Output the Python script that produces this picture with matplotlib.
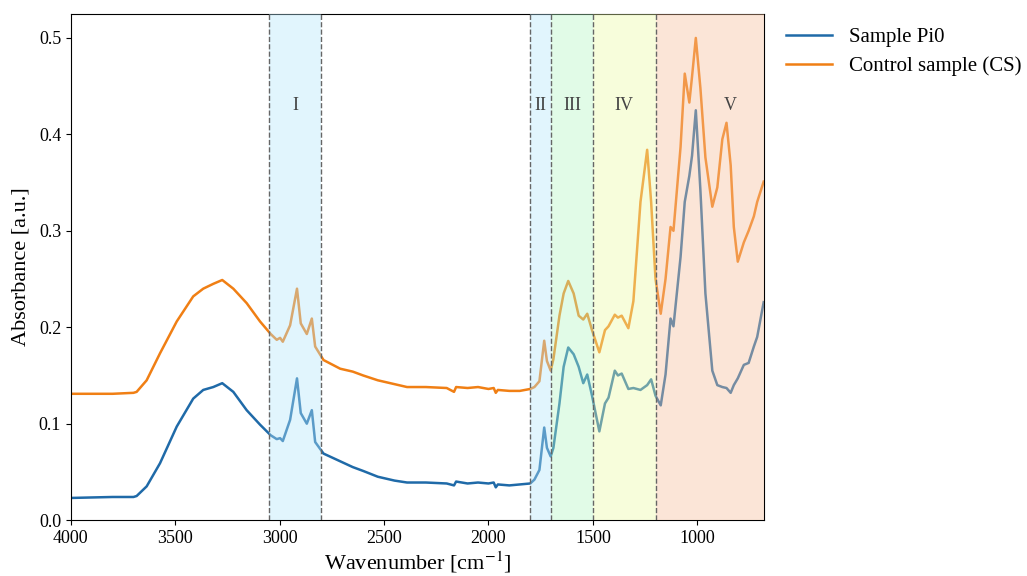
import matplotlib
matplotlib.use("Agg")
import matplotlib.pyplot as plt

plt.rcParams['font.family'] = ['Liberation Serif', 'DejaVu Serif']
plt.rcParams['mathtext.fontset'] = 'stix'

# wavenumber grid [cm^-1]
wavenumber = [4000, 3800, 3700, 3685, 3637, 3573, 3493, 3414, 3366, 3318, 3275, 3222,
              3158, 3094, 3043, 3014, 2998, 2985, 2950, 2917, 2899, 2870, 2846, 2830,
              2790, 2710, 2650, 2600, 2530, 2450, 2390, 2300, 2200, 2165, 2155, 2100,
              2050, 2000, 1975, 1965, 1955, 1900, 1850, 1800, 1780, 1756, 1733, 1720,
              1702, 1689, 1660, 1640, 1618, 1592, 1568, 1546, 1527, 1504, 1469, 1442,
              1425, 1395, 1380, 1362, 1330, 1306, 1272, 1240, 1221, 1200, 1175, 1152,
              1128, 1114, 1080, 1060, 1038, 1025, 1007, 985, 961, 928, 904, 880,
              860, 840, 825, 806, 777, 754, 729, 713, 682]

sample_pi0 = [0.023, 0.024, 0.024, 0.025, 0.035, 0.059, 0.097, 0.126, 0.135, 0.138, 0.142, 0.133,
              0.114, 0.099, 0.088, 0.084, 0.085, 0.082, 0.104, 0.147, 0.111, 0.100, 0.114, 0.081,
              0.069, 0.061, 0.055, 0.051, 0.045, 0.041, 0.039, 0.039, 0.038, 0.036, 0.040, 0.038,
              0.039, 0.038, 0.039, 0.034, 0.037, 0.036, 0.037, 0.038, 0.042, 0.052, 0.096, 0.075,
              0.066, 0.075, 0.121, 0.159, 0.179, 0.172, 0.159, 0.142, 0.151, 0.129, 0.092, 0.121,
              0.127, 0.155, 0.150, 0.152, 0.136, 0.137, 0.135, 0.140, 0.146, 0.129, 0.119, 0.151,
              0.209, 0.201, 0.273, 0.330, 0.357, 0.378, 0.425, 0.342, 0.235, 0.155, 0.140, 0.138,
              0.137, 0.132, 0.140, 0.147, 0.161, 0.163, 0.180, 0.190, 0.226]

control_cs = [0.131, 0.131, 0.132, 0.133, 0.145, 0.173, 0.206, 0.232, 0.240, 0.245, 0.249, 0.240,
              0.225, 0.206, 0.193, 0.187, 0.189, 0.185, 0.202, 0.240, 0.204, 0.193, 0.209, 0.180,
              0.166, 0.157, 0.154, 0.150, 0.145, 0.141, 0.138, 0.138, 0.137, 0.133, 0.138, 0.137,
              0.138, 0.136, 0.137, 0.132, 0.135, 0.134, 0.134, 0.136, 0.138, 0.144, 0.186, 0.165,
              0.155, 0.167, 0.212, 0.235, 0.248, 0.235, 0.212, 0.208, 0.214, 0.197, 0.174, 0.197,
              0.201, 0.213, 0.210, 0.212, 0.199, 0.227, 0.330, 0.384, 0.330, 0.250, 0.214, 0.250,
              0.304, 0.300, 0.387, 0.463, 0.433, 0.460, 0.500, 0.448, 0.376, 0.325, 0.345, 0.395,
              0.412, 0.368, 0.304, 0.268, 0.288, 0.300, 0.315, 0.330, 0.351]

# spectral regions
region_labels = ['I', 'II', 'III', 'IV', 'V']
region_start = [3050, 1800, 1700, 1500, 1200]
region_end = [2800, 1700, 1500, 1200, 680]
region_label_x = [2925, 1750, 1600, 1350, 840]
region_colors = ['#b4e6fa', '#b4e6fa', '#b4f7c5', '#ebfaa7', '#f7c09b']
boundaries = [3050, 2800, 1800, 1700, 1500, 1200]

fig = plt.figure(figsize=(10.27, 5.76), dpi=100)
ax = fig.add_axes([0.069, 0.097, 0.675, 0.879])

ax.plot(wavenumber, sample_pi0, color='#1f6aa8', lw=1.8, label='Sample Pi0', zorder=2)
ax.plot(wavenumber, control_cs, color='#f07f14', lw=1.8, label='Control sample (CS)', zorder=2)

for lab, x0, x1, xl, c in zip(region_labels, region_start, region_end, region_label_x, region_colors):
    ax.axvspan(x0, x1, color=c, alpha=0.4, lw=0, zorder=3)
    ax.text(xl, 0.43, lab, ha='center', va='center', fontsize=13, color='#444444', zorder=5)

for b in boundaries:
    ax.axvline(b, color='#666666', ls='--', lw=1, zorder=4)

ax.set_xlim(4000, 680)
ax.set_ylim(0, 0.525)
ax.set_xticks([4000, 3500, 3000, 2500, 2000, 1500, 1000])
ax.set_yticks([0.0, 0.1, 0.2, 0.3, 0.4, 0.5])
ax.set_yticklabels(['0.0', '0.1', '0.2', '0.3', '0.4', '0.5'])
ax.tick_params(labelsize=13)
ax.set_xlabel(r'Wavenumber [cm$^{-1}$]', fontsize=16, labelpad=2)
ax.set_ylabel('Absorbance [a.u.]', fontsize=16, labelpad=6)

ax.legend(loc='upper left', bbox_to_anchor=(1.005, 1.01), frameon=False, fontsize=15,
          handlelength=2.2, handletextpad=0.8, labelspacing=0.45)

fig.savefig('out.png', dpi=100)
